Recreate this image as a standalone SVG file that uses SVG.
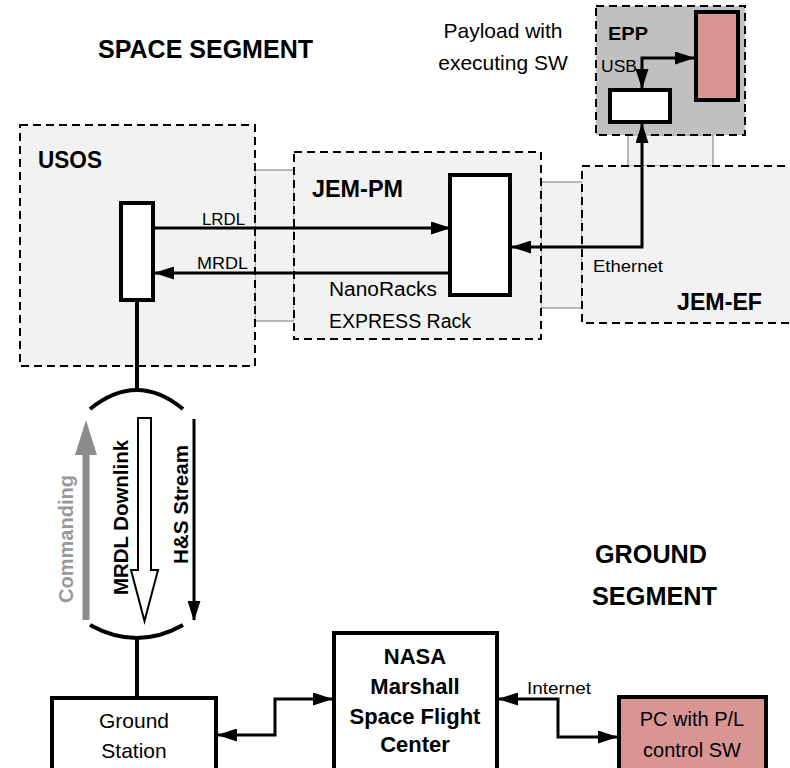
<svg xmlns="http://www.w3.org/2000/svg" width="790" height="768" viewBox="0 0 790 768">
<defs>
<style>
text{font-family:"Liberation Sans",Arial,sans-serif;fill:#000}
.b{font-weight:bold}
.area{fill:#f2f2f2;stroke:#000;stroke-width:2;stroke-dasharray:8 5}
.link{fill:#f2f2f2;stroke:#777;stroke-width:1}
.blk{fill:#fff;stroke:#000;stroke-width:4}
.pink{fill:#d99594;stroke:#000;stroke-width:4}
.ln{fill:none;stroke:#000;stroke-width:3}
.thick{fill:none;stroke:#000;stroke-width:4}
</style>
<marker id="ah" viewBox="0 0 20 13" refX="19" refY="6.5" markerWidth="20" markerHeight="13" markerUnits="userSpaceOnUse" orient="auto-start-reverse">
<path d="M0,0 L20,6.5 L0,13 z" fill="#000"/>
</marker>
</defs>
<rect width="790" height="768" fill="#fff"/>

<text class="b" x="98" y="58" font-size="26" textLength="215" lengthAdjust="spacingAndGlyphs">SPACE SEGMENT</text>
<text x="503" y="38" font-size="21" text-anchor="middle">Payload with</text>
<text x="503" y="70" font-size="21" text-anchor="middle">executing SW</text>
<text class="b" x="595" y="563" font-size="25" textLength="112" lengthAdjust="spacingAndGlyphs">GROUND</text>
<text class="b" x="592" y="605" font-size="25" textLength="125" lengthAdjust="spacingAndGlyphs">SEGMENT</text>

<g id="links">
<rect class="link" x="255" y="170" width="39" height="151"/>
<rect class="link" x="541" y="182" width="41" height="126"/>
<rect class="link" x="628" y="135" width="85" height="31"/>
</g>

<g id="usos">
<rect class="area" x="20" y="125" width="235" height="241"/>
<text class="b" x="38" y="168" font-size="23" textLength="64" lengthAdjust="spacingAndGlyphs">USOS</text>
<rect class="blk" x="121" y="203" width="32" height="97"/>
</g>

<g id="jem-pm">
<rect class="area" x="294" y="152" width="247" height="187"/>
<text class="b" x="312" y="197" font-size="23" textLength="91" lengthAdjust="spacingAndGlyphs">JEM-PM</text>
<rect class="blk" x="450" y="175" width="60" height="120"/>
<text x="329" y="296" font-size="20" textLength="108" lengthAdjust="spacingAndGlyphs">NanoRacks</text>
<text x="329" y="328" font-size="20" textLength="142" lengthAdjust="spacingAndGlyphs">EXPRESS Rack</text>
</g>

<g id="jem-ef">
<rect class="area" x="582" y="166" width="220" height="157"/>
<text x="593" y="272" font-size="17" textLength="70" lengthAdjust="spacingAndGlyphs">Ethernet</text>
<text class="b" x="677" y="310" font-size="23" textLength="85" lengthAdjust="spacingAndGlyphs">JEM-EF</text>
</g>

<g id="epp">
<rect class="area" x="596" y="6" width="149" height="129" style="fill:#c0c0c0"/>
<text class="b" x="608" y="40" font-size="19" textLength="40" lengthAdjust="spacingAndGlyphs">EPP</text>
<text x="601" y="72" font-size="17" textLength="36" lengthAdjust="spacingAndGlyphs">USB</text>
<rect class="blk" x="610" y="90" width="60" height="32"/>
<rect class="pink" x="696" y="12" width="42" height="88"/>
</g>

<g id="ground-station">
<rect class="blk" x="52" y="698" width="164" height="80"/>
<text x="134" y="728" font-size="21" text-anchor="middle">Ground</text>
<text x="134" y="758" font-size="21" text-anchor="middle">Station</text>
</g>

<g id="nasa">
<rect class="blk" x="334" y="633" width="163" height="150"/>
<text class="b" x="415" y="664" font-size="22" text-anchor="middle">NASA</text>
<text class="b" x="415" y="694" font-size="22" text-anchor="middle">Marshall</text>
<text class="b" x="415" y="724" font-size="22" text-anchor="middle">Space Flight</text>
<text class="b" x="415" y="752" font-size="22" text-anchor="middle">Center</text>
</g>

<g id="pc">
<rect class="pink" x="619" y="697" width="147" height="80"/>
<text x="692" y="726" font-size="20" text-anchor="middle">PC with P/L</text>
<text x="692" y="757" font-size="20" text-anchor="middle">control SW</text>
</g>

<g id="connectors">
<!-- LRDL / MRDL -->
<line class="ln" x1="153" y1="228" x2="450" y2="228" marker-end="url(#ah)"/>
<text x="202" y="225" font-size="17" textLength="43" lengthAdjust="spacingAndGlyphs">LRDL</text>
<line class="ln" x1="452" y1="273" x2="155" y2="273" marker-end="url(#ah)"/>
<text x="197" y="269" font-size="17" textLength="51" lengthAdjust="spacingAndGlyphs">MRDL</text>
<!-- Ethernet -->
<polyline class="ln" points="642,124 642,247 512,247" marker-start="url(#ah)" marker-end="url(#ah)"/>
<!-- USB -->
<polyline class="ln" points="642,88 642,58 694,58" marker-start="url(#ah)" marker-end="url(#ah)"/>
<!-- space-ground link -->
<line class="thick" x1="137" y1="300" x2="137" y2="390"/>
<path class="thick" d="M90,409 Q137,371 183,409"/>
<path class="thick" d="M90,625 Q137,651 183,625"/>
<line class="thick" x1="137" y1="638" x2="137" y2="698"/>
<!-- Commanding -->
<polygon points="82.5,620 89.5,620 89.5,455 97,455 86,420 75,455 82.5,455" fill="#8c8c8c"/>
<text class="b" transform="translate(73,603) rotate(-90)" font-size="20" style="fill:#999" textLength="128" lengthAdjust="spacingAndGlyphs">Commanding</text>
<!-- MRDL Downlink -->
<polygon points="138,418 151,418 151,570 158,570 144.5,621 131,570 138,570" fill="#fff" stroke="#000" stroke-width="2"/>
<text class="b" transform="translate(128,595) rotate(-90)" font-size="20" textLength="155" lengthAdjust="spacingAndGlyphs">MRDL Downlink</text>
<!-- H&S Stream -->
<line class="ln" x1="194" y1="419" x2="194" y2="620" marker-end="url(#ah)"/>
<text class="b" transform="translate(188,564) rotate(-90)" font-size="20" textLength="119" lengthAdjust="spacingAndGlyphs">H&amp;S Stream</text>
<!-- Ground station - NASA -->
<polyline class="ln" points="218,735 275,735 275,699 332,699" marker-start="url(#ah)" marker-end="url(#ah)"/>
<!-- NASA - PC -->
<polyline class="ln" points="499,699 558,699 558,737 617,737" marker-start="url(#ah)" marker-end="url(#ah)"/>
<text x="527" y="694" font-size="16" textLength="64" lengthAdjust="spacingAndGlyphs">Internet</text>
</g>
</svg>
